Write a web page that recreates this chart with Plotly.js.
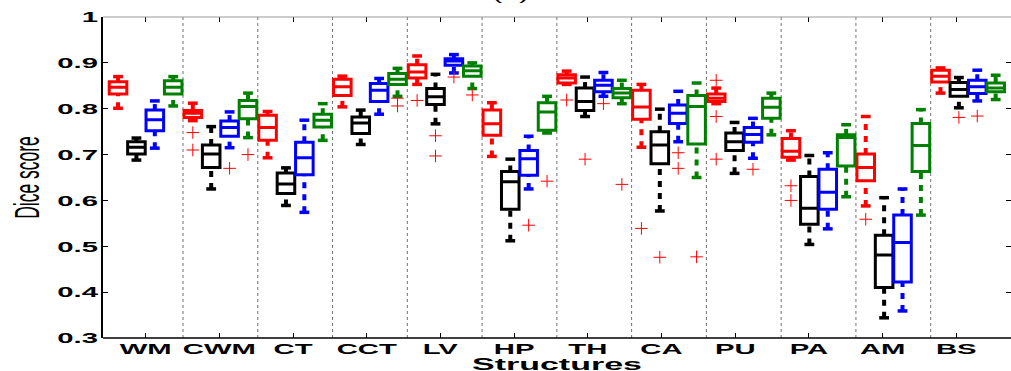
<!DOCTYPE html>
<html>
<head>
<meta charset="utf-8">
<script src="https://cdn.plot.ly/plotly-3.0.1.min.js"></script>
<style>
html,body{margin:0;padding:0;background:#fff;}
#chart{width:1011px;height:371px;}
</style>
</head>
<body>
<div id="chart"></div>
<script>
// ---------------- data ----------------
const categories = ['WM','CWM','CT','CCT','LV','HP','TH','CA','PU','PA','AM','BS'];
const yTicks = [0.3,0.4,0.5,0.6,0.7,0.8,0.9,1];
const yTickLabels = ['0.3','0.4','0.5','0.6','0.7','0.8','0.9','1'];

// Red series
const red_hi  = [0.870,0.812,0.794,0.871,0.915,0.813,0.882,0.853,0.845,0.752,0.783,0.889];
const red_q3  = [0.859,0.796,0.786,0.864,0.896,0.797,0.874,0.840,0.832,0.735,0.701,0.884];
const red_med = [0.847,0.790,0.759,0.848,0.880,0.767,0.867,0.804,0.823,0.707,0.672,0.871];
const red_q1  = [0.832,0.781,0.731,0.829,0.867,0.742,0.856,0.777,0.816,0.694,0.643,0.858];
const red_lo  = [0.801,0.774,0.693,0.804,0.853,0.696,0.853,0.716,0.811,0.688,0.588,0.834];
const red_out_cat = ['CWM','CWM','LV','TH','CA','PU','PU','PU','PA','PA','AM'];
const red_out_val = [0.748,0.710,0.818,0.819,0.539,0.862,0.783,0.690,0.632,0.600,0.559];

// Black series
const black_hi  = [0.736,0.761,0.671,0.797,0.875,0.690,0.869,0.799,0.770,0.698,0.606,0.868];
const black_q3  = [0.728,0.721,0.660,0.782,0.844,0.663,0.845,0.750,0.747,0.652,0.524,0.857];
const black_med = [0.716,0.701,0.636,0.769,0.826,0.641,0.816,0.721,0.728,0.583,0.481,0.842];
const black_q1  = [0.701,0.672,0.615,0.746,0.809,0.581,0.796,0.680,0.709,0.548,0.410,0.827];
const black_lo  = [0.688,0.625,0.589,0.722,0.767,0.512,0.783,0.577,0.659,0.504,0.344,0.802];
const black_out_cat = ['LV','LV','TH','CA','BS'];
const black_out_val = [0.741,0.697,0.690,0.476,0.781];

// Blue series
const blue_hi  = [0.817,0.793,0.775,0.866,0.918,0.740,0.879,0.838,0.779,0.704,0.625,0.884];
const blue_q3  = [0.797,0.773,0.727,0.855,0.909,0.709,0.862,0.808,0.759,0.668,0.568,0.862];
const blue_med = [0.776,0.759,0.693,0.840,0.904,0.691,0.851,0.790,0.744,0.618,0.508,0.848];
const blue_q1  = [0.752,0.740,0.656,0.816,0.895,0.655,0.837,0.768,0.727,0.581,0.422,0.833];
const blue_lo  = [0.714,0.715,0.574,0.788,0.878,0.625,0.827,0.728,0.692,0.538,0.359,0.817];
const blue_out_cat = ['CWM','LV','HP','TH','CA','CA','PU','BS'];
const blue_out_val = [0.670,0.869,0.546,0.811,0.704,0.670,0.668,0.784];

// Green series
const green_hi  = [0.870,0.834,0.811,0.888,0.900,0.827,0.862,0.856,0.834,0.765,0.798,0.873];
const green_q3  = [0.861,0.818,0.788,0.877,0.893,0.813,0.844,0.829,0.823,0.743,0.768,0.856];
const green_med = [0.847,0.805,0.775,0.864,0.883,0.793,0.834,0.805,0.803,0.737,0.720,0.845];
const green_q1  = [0.832,0.778,0.760,0.853,0.871,0.753,0.824,0.723,0.779,0.675,0.663,0.837];
const green_lo  = [0.806,0.737,0.731,0.827,0.844,0.747,0.811,0.650,0.743,0.608,0.568,0.820];
const green_out_cat = ['CWM','CCT','CCT','LV','HP','TH','CA'];
const green_out_val = [0.700,0.823,0.806,0.830,0.642,0.635,0.477];

// ---------------- styling ----------------
const series = [
  {color:'#ff0000', hi:red_hi,   q3:red_q3,   med:red_med,   q1:red_q1,   lo:red_lo,   oc:red_out_cat,   ov:red_out_val},
  {color:'#000000', hi:black_hi, q3:black_q3, med:black_med, q1:black_q1, lo:black_lo, oc:black_out_cat, ov:black_out_val},
  {color:'#0000ff', hi:blue_hi,  q3:blue_q3,  med:blue_med,  q1:blue_q1,  lo:blue_lo,  oc:blue_out_cat,  ov:blue_out_val},
  {color:'#008000', hi:green_hi, q3:green_q3, med:green_med, q1:green_q1, lo:green_lo, oc:green_out_cat, ov:green_out_val}
];
const offsets = [-0.369,-0.123,0.123,0.369];
const boxWidth = 0.235;
const catPos = c => categories.indexOf(c) + 1;

const traces = [];
series.forEach((s,k)=>{
  const xs = categories.map((c,i)=> i + 1 + offsets[k]);
  traces.push({
    type:'box', x:xs, q1:s.q1, median:s.med, q3:s.q3,
    lowerfence:s.q1, upperfence:s.q3,
    width:boxWidth, whiskerwidth:0,
    fillcolor:'rgba(255,255,255,0)',
    line:{color:s.color, width:3},
    boxpoints:false, hoverinfo:'skip', showlegend:false
  });
});
series.forEach((s,k)=>{
  const wx=[], wy=[], cx=[], cy=[];
  categories.forEach((c,i)=>{
    const xp = i + 1 + offsets[k];
    wx.push(xp,xp,null,xp,xp,null);
    wy.push(s.q3[i],s.hi[i],null,s.lo[i],s.q1[i],null);
    cx.push(xp,xp); cy.push(s.hi[i],s.lo[i]);
  });
  traces.push({type:'scatter', mode:'lines', x:wx, y:wy,
    line:{color:s.color, width:4, dash:'6px,6px'}, hoverinfo:'skip', showlegend:false});
  traces.push({type:'scatter', mode:'markers', x:cx, y:cy,
    marker:{symbol:'line-ew', size:7, line:{color:s.color, width:3.5}}, hoverinfo:'skip', showlegend:false});
});
series.forEach((s,k)=>{
  traces.push({type:'scatter', mode:'markers',
    x:s.oc.map(c=>catPos(c)+offsets[k]), y:s.ov,
    marker:{symbol:'cross-thin', size:9, line:{color:'#ff0000', width:1}},
    hoverinfo:'skip', showlegend:false});
});

const shapes = [];
for(let i=1;i<categories.length;i++){
  shapes.push({type:'line', xref:'x', yref:'paper', x0:i+0.5, x1:i+0.5, y0:0, y1:1,
    line:{color:'#707070', width:1, dash:'dot'}, layer:'below'});
}
shapes.push({type:'line', xref:'paper', yref:'paper', x0:0, x1:1, y0:1, y1:1, line:{color:'#999999', width:1}});
shapes.push({type:'line', xref:'paper', yref:'paper', x0:0, x1:1, y0:0, y1:0, line:{color:'#000000', width:1.5}});

const tickPos = categories.map((c,i)=> 1 + i*0.9857);

const layout = {
  width:1011, height:371,
  margin:{l:103, r:0, t:17, b:33},
  paper_bgcolor:'#ffffff', plot_bgcolor:'#ffffff',
  boxmode:'overlay',
  title:{text:'(a)', font:{family:'Liberation Sans', size:15, color:'#000'},
         xref:'container', x:0.505, yref:'container', y:1.0, yanchor:'bottom'},
  xaxis:{range:[0.43,12.574], tickmode:'array', tickvals:tickPos, ticktext:categories,
    ticks:'inside', ticklen:5, tickcolor:'#000', tickwidth:1, mirror:'ticks',
    showline:false, showgrid:false, zeroline:false,
    tickfont:{family:'Liberation Sans', size:15, weight:'bold', color:'#000'},
    title:{text:'Structures', font:{family:'Liberation Sans', size:17, weight:'bold', color:'#000'}, standoff:2}},
  yaxis:{range:[0.3,1], tickmode:'array', tickvals:yTicks, ticktext:yTickLabels,
    ticks:'inside', ticklen:5, tickcolor:'#000', tickwidth:1, mirror:'ticks',
    showline:true, linecolor:'#000', linewidth:2, showgrid:false, zeroline:false,
    tickfont:{family:'Liberation Sans', size:15, weight:'bold', color:'#000'},
    title:{text:'Dice score', font:{family:'Liberation Sans', size:17.5, color:'#000'}, standoff:39}},
  shapes:shapes
};

function stretch(sel, origin, sx){
  document.querySelectorAll(sel).forEach(g=>{
    g.style.transformBox='fill-box';
    g.style.transformOrigin=origin;
    g.style.transform='scaleX('+sx+')';
  });
}

Plotly.newPlot('chart', traces, layout, {staticPlot:true}).then(()=>{
  stretch('#chart g.xtick', '50% 50%', 1.95);
  stretch('#chart g.ytick', '100% 50%', 1.95);
  stretch('#chart g.g-xtitle', '50% 50%', 2);
  stretch('#chart g.g-ytitle', '50% 50%', 2);
  stretch('#chart g.g-gtitle', '50% 50%', 2);
});
</script>
</body>
</html>
